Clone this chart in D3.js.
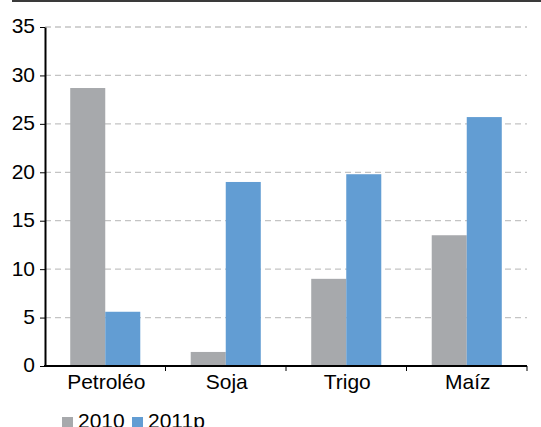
<!DOCTYPE html>
<html>
<head>
<meta charset="utf-8">
<script src="https://cdn.jsdelivr.net/npm/d3@7"></script>
<style>
  html, body { margin: 0; padding: 0; background: #fff; }
  svg { display: block; font-family: "Liberation Sans", Arial, sans-serif; }
</style>
</head>
<body>
<svg id="chart" width="541" height="427"></svg>
<script>
// Variación de precios por producto
const categories = ["Petroléo", "Soja", "Trigo", "Maíz"];
const seriesNames = ["2010", "2011p"];
const values2010 = [28.7, 1.45, 9.0, 13.5];
const values2011p = [5.6, 19.0, 19.8, 25.7];
const yTicks = [0, 5, 10, 15, 20, 25, 30, 35];
const colors = ["#a7a9ac", "#629dd3"];

(function draw() {
  const svg = d3.select("#chart");
  const plotLeft = 45, plotRight = 527, plotTop = 27, plotBottom = 366;
  const fontSize = 21;

  // Top rule
  svg.append("line")
    .attr("x1", 12).attr("x2", 541).attr("y1", 1).attr("y2", 1)
    .attr("stroke", "#3a3a3a").attr("stroke-width", 2);

  const x0 = d3.scaleBand().domain(categories).range([plotLeft, plotRight]).padding(0);
  const x1 = d3.scaleBand().domain(seriesNames).range([0, x0.bandwidth()])
    .paddingInner(0).paddingOuter(0.72);
  const y = d3.scaleLinear().domain([0, 35]).range([plotBottom, plotTop]);

  // Gridlines
  svg.append("g")
    .selectAll("line")
    .data(yTicks.filter(d => d > 0))
    .join("line")
    .attr("x1", plotLeft).attr("x2", plotRight)
    .attr("y1", d => y(d)).attr("y2", d => y(d))
    .attr("stroke", "#c4c4c4").attr("stroke-width", 1.3)
    .attr("stroke-dasharray", "6,4");

  // Bars
  const rows = categories.map((c, i) => ({ cat: c, vals: [values2010[i], values2011p[i]] }));
  const groups = svg.append("g").selectAll("g")
    .data(rows).join("g")
    .attr("transform", d => `translate(${x0(d.cat)},0)`);
  groups.selectAll("rect")
    .data(d => d.vals.map((v, j) => ({ s: seriesNames[j], v, j })))
    .join("rect")
    .attr("x", d => x1(d.s))
    .attr("width", x1.bandwidth())
    .attr("y", d => y(d.v))
    .attr("height", d => y(0) - y(d.v))
    .attr("fill", d => colors[d.j]);

  // Y axis
  const yAxis = svg.append("g")
    .attr("transform", `translate(${plotLeft},0)`)
    .call(d3.axisLeft(y).tickValues(yTicks).tickSize(5).tickPadding(5).tickSizeOuter(0));
  yAxis.select(".domain").attr("stroke", "#000").attr("stroke-width", 2);
  yAxis.selectAll(".tick line").attr("stroke", "#000").attr("stroke-width", 1);
  yAxis.selectAll("text").attr("font-size", fontSize).attr("fill", "#000")
    .attr("dy", "0.28em")
    .attr("font-family", "Liberation Sans, Arial, sans-serif");

  // X axis with ticks at category boundaries
  const xAxis = svg.append("g").attr("transform", `translate(0,${plotBottom})`);
  xAxis.append("line")
    .attr("x1", plotLeft - 1).attr("x2", plotRight).attr("y1", 0).attr("y2", 0)
    .attr("stroke", "#000").attr("stroke-width", 2);
  xAxis.selectAll(".bt")
    .data(categories.map(c => x0(c) + x0.bandwidth()))
    .join("line").attr("class", "bt")
    .attr("x1", d => d).attr("x2", d => d).attr("y1", 0).attr("y2", 5)
    .attr("stroke", "#000").attr("stroke-width", 1);
  xAxis.selectAll("text")
    .data(categories).join("text")
    .attr("x", d => x0(d) + x0.bandwidth() / 2 + 1)
    .attr("y", 23)
    .attr("text-anchor", "middle")
    .attr("font-size", fontSize)
    .attr("fill", "#000")
    .text(d => d);

  // Legend
  const legend = svg.append("g").attr("transform", "translate(62,417)");
  const legendX = [0, 70];
  seriesNames.forEach((s, i) => {
    const g = legend.append("g").attr("transform", `translate(${legendX[i]},0)`);
    g.append("rect").attr("width", 11).attr("height", 11).attr("fill", colors[i]);
    g.append("text").attr("x", 16).attr("y", 11).attr("font-size", fontSize)
      .attr("fill", "#000").text(s);
  });
})();
</script>
</body>
</html>
